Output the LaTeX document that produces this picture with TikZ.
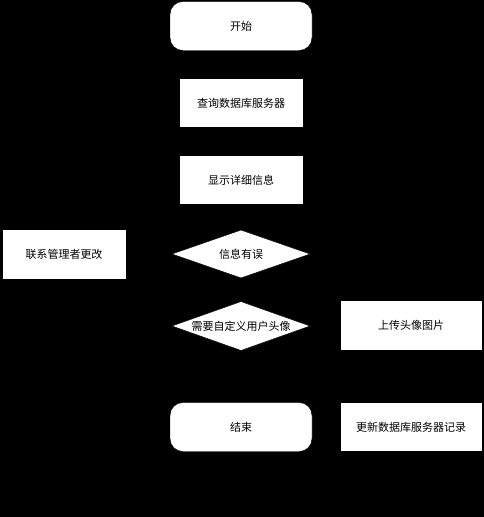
\documentclass[tikz,border=0pt]{standalone}
\usepackage{fontspec}
\setmainfont{Noto Sans CJK SC}
\usetikzlibrary{shapes.geometric,arrows.meta}
\tikzset{
  x=1pt,y=-1pt,
  box/.style={draw=black,fill=white,inner sep=0pt,font=\fontsize{11pt}{13pt}\selectfont},
  term/.style={box,rounded corners=13pt,minimum width=142pt,minimum height=49pt},
  proc/.style={box,minimum width=124pt,minimum height=49pt},
  wproc/.style={box,minimum width=142pt,minimum height=50pt},
  dec/.style={draw=black,fill=white,diamond,inner sep=0pt,minimum width=138pt,minimum height=48pt},
  dectext/.style={inner sep=0pt,font=\fontsize{11pt}{13pt}\selectfont},
  conn/.style={draw=black,-{Stealth[length=6pt]}}
}
\begin{document}
\begin{tikzpicture}
\useasboundingbox[fill=black] (0,0) rectangle (484,517);
\node[term] (start) at (241,26) {开始};
\node[proc] (query) at (241,103) {查询数据库服务器};
\node[proc] (show) at (241,180) {显示详细信息};
\node[dec] (err) at (241,254) {};
\node[dectext] (errt) at (241,254) {信息有误};
\node[proc,minimum height=50pt] (contact) at (64,254) {联系管理者更改};
\node[dec,minimum height=49pt] (custom) at (241,326) {};
\node[dectext] (customt) at (241,326) {需要自定义用户头像};
\node[wproc] (upload) at (411,325) {上传头像图片};
\node[term] (end) at (241,427) {结束};
\node[wproc,minimum height=49pt] (update) at (411,427) {更新数据库服务器记录};
\draw[conn] (start) -- (query);
\draw[conn] (query) -- (show);
\draw[conn] (show) -- (err);
\draw[conn] (err) -- (contact);
\draw[conn] (err) -- (custom);
\draw[conn] (custom) -- (upload);
\draw[conn] (custom) -- (end);
\draw[conn] (upload) -- (update);
\draw[conn] (update) -- (end);
\end{tikzpicture}
\end{document}
